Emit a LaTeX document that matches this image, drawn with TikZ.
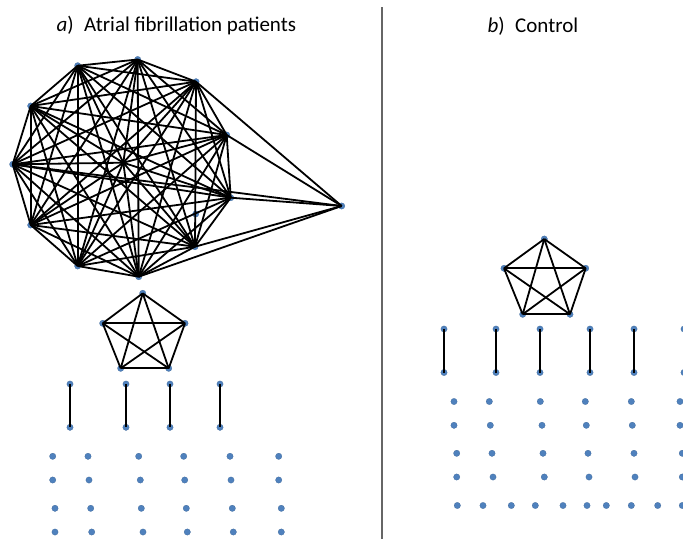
\documentclass[tikz,border=0pt]{standalone}
\usepackage{fontspec}
\setmainfont{Carlito}
\definecolor{dotblue}{RGB}{79,129,189}
\tikzset{
  vtx/.style={circle,fill=dotblue,draw=dotblue!80!black,line width=0.2pt,inner sep=0pt,minimum size=6.4pt},
  edge/.style={line width=1.8pt,black},
  title/.style={font=\fontsize{21}{25}\selectfont,anchor=west}
}
\begin{document}
\begin{tikzpicture}[x=1pt,y=-1pt]
\useasboundingbox (0,0) rectangle (683,539);
\clip (0,0) rectangle (683,539);

% Titles
\node[title] (ta) at (53,26) {\textit{a})\enspace Atrial fibrillation patients};
\node[title] (tb) at (484,26) {\textit{b})\enspace Control};

% Separator
\coordinate (s1) at (382,7);
\coordinate (s2) at (382,539);
\draw[line width=1.3pt,black!60] (s1) -- (s2);

% Drawing clique of twelve
\node[vtx] (c1) at (77.7,65.7) {};
\node[vtx] (c2) at (137.7,59.5) {};
\node[vtx] (c3) at (196,81.7) {};
\node[vtx] (c4) at (30.7,106) {};
\node[vtx] (c5) at (226.7,135) {};
\node[vtx] (c6) at (12.7,164.3) {};
\node[vtx] (c7) at (230.7,197.7) {};
\node[vtx] (c8) at (30.7,225) {};
\node[vtx] (c9) at (195,246.7) {};
\node[vtx] (c10) at (77.7,266) {};
\node[vtx] (c11) at (138.7,276.7) {};
\node[vtx] (c12) at (123.3,162.7) {};
\node[vtx] (far) at (341.7,206) {};
\node[vtx] (lone) at (195.7,214) {};
\foreach \i in {1,...,12}
  \foreach \j in {\i,...,12}
    {\ifnum\i<\j \draw[edge] (c\i.center) -- (c\j.center);\fi}
\foreach \k in {3,5,6,7,9,11}
  \draw[edge] (far.center) -- (c\k.center);

% Drawing pentagon a
\node[vtx] (pa1) at (142.7,293.3) {};
\node[vtx] (pa2) at (102.7,323.3) {};
\node[vtx] (pa3) at (185,323.3) {};
\node[vtx] (pa4) at (120.7,368.3) {};
\node[vtx] (pa5) at (168.7,368.3) {};
\foreach \i in {1,...,5}
  \foreach \j in {\i,...,5}
    {\ifnum\i<\j \draw[edge] (pa\i.center) -- (pa\j.center);\fi}

% Drawing pairs a
\foreach \x [count=\n] in {70,126,170,220} {
  \node[vtx] (ua\n) at (\x,384) {};
  \node[vtx] (la\n) at (\x,427.3) {};
  \draw[edge] (ua\n.center) -- (la\n.center);
}

% Marking isolated points a
\foreach \x [count=\n] in {52.7,88,138.7,183.7,230,278.7}
  \node[vtx] (ia1\n) at (\x,456.3) {};
\foreach \x [count=\n] in {52.7,89,140.3,184.7,231,278.7}
  \node[vtx] (ia2\n) at (\x,480) {};
\foreach \x [count=\n] in {55,90.7,141.3,186.3,232.3,281.3}
  \node[vtx] (ia3\n) at (\x,508.3) {};
\foreach \x [count=\n] in {55,91.7,143,187.3,233.3,281.3}
  \node[vtx] (ia4\n) at (\x,532) {};

% Drawing pentagon b
\node[vtx] (pb1) at (544.3,239) {};
\node[vtx] (pb2) at (504,268.3) {};
\node[vtx] (pb3) at (585.7,268.3) {};
\node[vtx] (pb4) at (522.7,314.3) {};
\node[vtx] (pb5) at (570,314.3) {};
\foreach \i in {1,...,5}
  \foreach \j in {\i,...,5}
    {\ifnum\i<\j \draw[edge] (pb\i.center) -- (pb\j.center);\fi}

% Drawing pairs b
\foreach \x [count=\n] in {444,496,540,590,634,684} {
  \node[vtx] (ub\n) at (\x,329) {};
  \node[vtx] (lb\n) at (\x,372.5) {};
  \draw[edge] (ub\n.center) -- (lb\n.center);
}

% Marking isolated points b
\foreach \x [count=\n] in {454,489.3,540.3,585.3,631.3,680}
  \node[vtx] (ib1\n) at (\x,401.5) {};
\foreach \x [count=\n] in {454,490.3,542,586.3,632.3,680}
  \node[vtx] (ib2\n) at (\x,425.3) {};
\foreach \x [count=\n] in {456.7,492,543,588,634,682.3}
  \node[vtx] (ib3\n) at (\x,453.3) {};
\foreach \x [count=\n] in {456.7,493,544.3,589,635,682.3}
  \node[vtx] (ib4\n) at (\x,477) {};
\foreach \x [count=\n] in {457.3,483,511.3,535.3,563,587,606.3,631.3,657.7,682.3}
  \node[vtx] (ib5\n) at (\x,505.5) {};
\end{tikzpicture}
\end{document}
